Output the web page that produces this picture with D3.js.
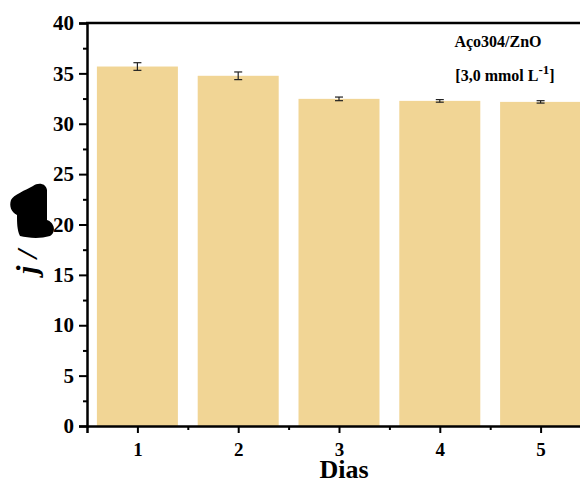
<!DOCTYPE html>
<html><head><meta charset="utf-8">
<script src="https://cdn.jsdelivr.net/npm/d3@7"></script>
<style>body{margin:0;background:#fff}svg{display:block}text{font-family:"Liberation Serif","Times New Roman",serif;font-weight:bold}</style>
</head><body><svg id="c" width="580" height="480"></svg>
<script>
const categories = [1, 2, 3, 4, 5];
const values = [35.68, 34.76, 32.47, 32.27, 32.17];
const errors = [0.38, 0.38, 0.18, 0.13, 0.12];
const yTicks = [0, 5, 10, 15, 20, 25, 30, 35, 40];

const svg = d3.select("#c");
const L = 87, R = 591, T = 23, B = 426;
const x = d3.scaleLinear().domain([0.5, 5.5]).range([L, R]);
const y = d3.scaleLinear().domain([0, 40]).range([B, T]);
const barW = 81;

// bars
svg.append("g").selectAll("rect").data(categories).join("rect")
  .attr("x", (d) => x(d) - barW / 2)
  .attr("width", barW)
  .attr("y", (d, i) => y(values[i]))
  .attr("height", (d, i) => y(0) - y(values[i]))
  .attr("fill", "#f1d595");

// error bars
const eg = svg.append("g").attr("stroke", "#222").attr("stroke-width", 1.2);
categories.forEach((c, i) => {
  const cx = x(c), y1 = y(values[i] + errors[i]), y2 = y(values[i] - errors[i]);
  eg.append("line").attr("x1", cx).attr("x2", cx).attr("y1", y1).attr("y2", y2);
  eg.append("line").attr("x1", cx - 4).attr("x2", cx + 4).attr("y1", y1).attr("y2", y1);
  eg.append("line").attr("x1", cx - 4).attr("x2", cx + 4).attr("y1", y2).attr("y2", y2);
});

// y axis
const yAx = svg.append("g").attr("transform", `translate(${L},0)`)
  .call(d3.axisLeft(y).tickValues(yTicks).tickSize(8).tickPadding(5));
yAx.select(".domain").attr("stroke-width", 2.5);
yAx.selectAll(".tick line").attr("stroke-width", 2);
yAx.selectAll("text").attr("font-size", 21).attr("fill", "#000");
const yMinor = svg.append("g").attr("transform", `translate(${L},0)`)
  .call(d3.axisLeft(y).tickValues(d3.range(2.5, 40, 5)).tickSize(4).tickFormat(""));
yMinor.select(".domain").remove();
yMinor.selectAll(".tick line").attr("stroke-width", 2);

// x axis
const xAx = svg.append("g").attr("transform", `translate(0,${B})`)
  .call(d3.axisBottom(x).tickValues(categories).tickSize(7).tickPadding(9.5).tickFormat(d3.format("d")));
xAx.select(".domain").attr("stroke-width", 2.5);
xAx.selectAll(".tick line").attr("stroke-width", 2);
xAx.selectAll("text").attr("font-size", 19).attr("fill", "#000");
const xMinor = svg.append("g").attr("transform", `translate(0,${B})`)
  .call(d3.axisBottom(x).tickValues([1.5, 2.5, 3.5, 4.5]).tickSize(4).tickFormat(""));
xMinor.select(".domain").remove();
xMinor.selectAll(".tick line").attr("stroke-width", 2);

// top frame
svg.append("line").attr("x1", L - 1).attr("x2", R).attr("y1", T).attr("y2", T)
  .attr("stroke", "#000").attr("stroke-width", 2.5);

// axis titles
svg.append("text").attr("x", 344).attr("y", 478).attr("text-anchor", "middle")
  .attr("font-size", 26).text("Dias");
svg.append("text").attr("transform", "translate(37,274) rotate(-90)")
  .attr("font-size", 30).attr("font-style", "italic").text("j /");
// redaction blob
svg.append("path")
  .attr("d", "M33,186 C38,182 46,183 47,190 L47,220 C54,222 57,232 50,236 C40,239 28,238 20,236 C17,230 17,222 17,215 C11,212 9,206 11,200 C13,195 26,190 33,186 Z")
  .attr("fill", "#000");

// annotation
svg.append("text").attr("x", 498).attr("y", 47).attr("text-anchor", "middle")
  .attr("font-size", 16).text("Aço304/ZnO");
const t2 = svg.append("text").attr("x", 505).attr("y", 81).attr("text-anchor", "middle").attr("font-size", 16);
t2.append("tspan").text("[3,0 mmol L");
t2.append("tspan").attr("dy", -7).attr("font-size", 13).text("-1");
t2.append("tspan").attr("dy", 7).text("]");
</script></body></html>
